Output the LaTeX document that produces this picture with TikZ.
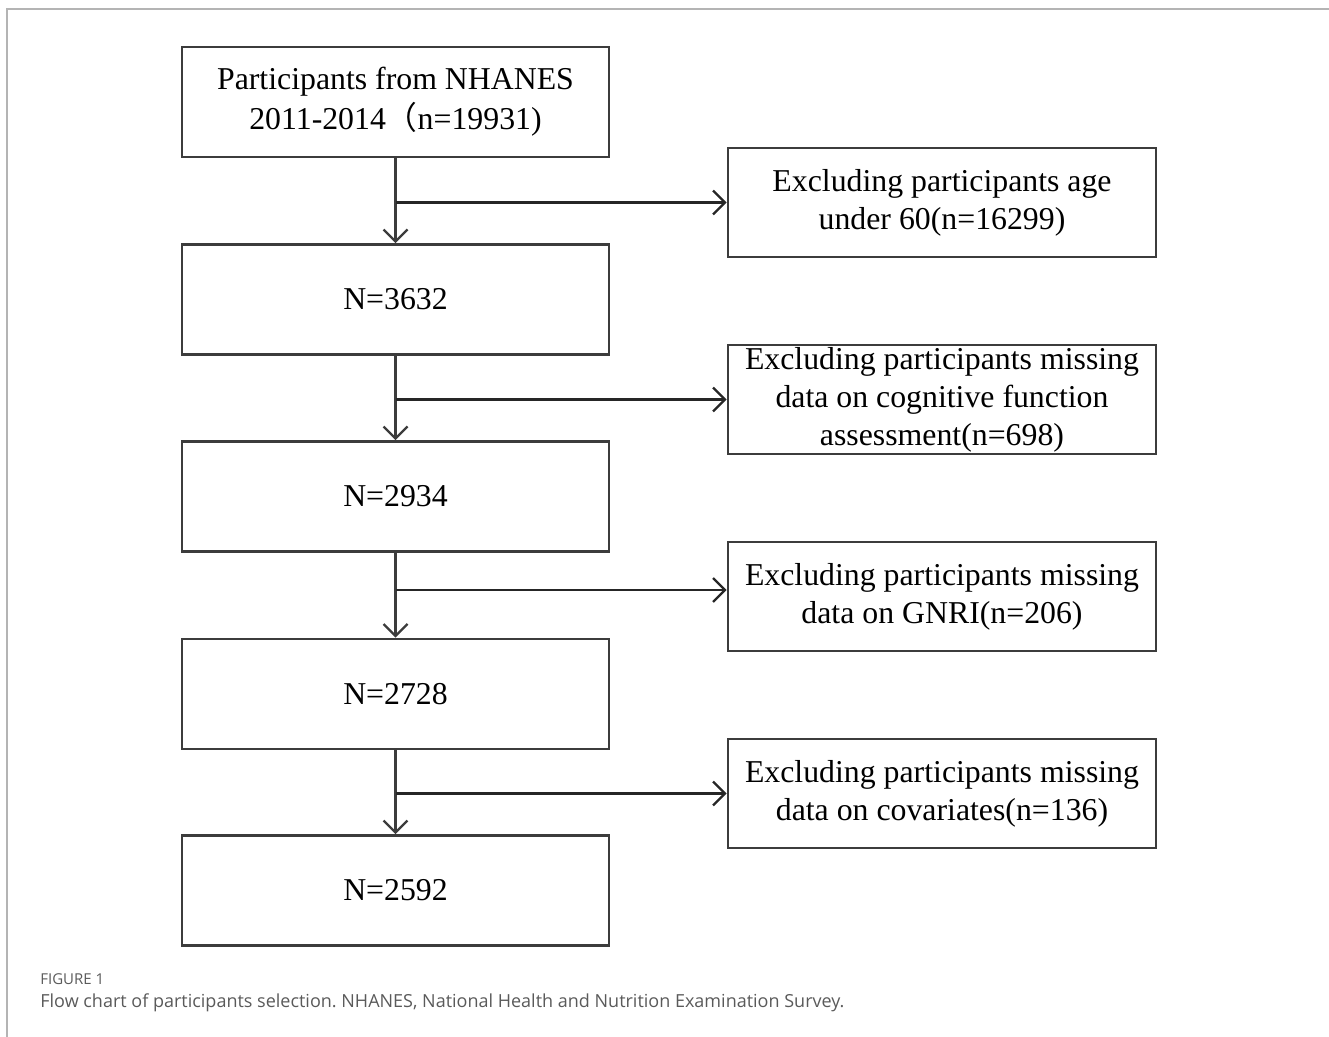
\documentclass[tikz,border=0pt]{standalone}
\usepackage{fontspec}
\setmainfont{Liberation Serif}
\newfontfamily\capfont{Open Sans}
\newfontfamily\cjkfont{Noto Sans CJK SC}
\usetikzlibrary{arrows.meta}
\frenchspacing

\definecolor{boxgray}{HTML}{3C3C3C}
\definecolor{capgray}{HTML}{5A5A5A}
\definecolor{framegray}{HTML}{B4B4B4}

\tikzset{
    flowbox/.style={draw=boxgray, line width=1.3pt, minimum width=213.5pt,
        minimum height=55pt, align=center, inner sep=0pt,
        font=\fontsize{15.9}{19}\selectfont},
    exclbox/.style={flowbox, minimum width=214pt, minimum height=54.5pt},
    downarrow/.style={draw=boxgray, line width=1.2pt,
        -{Straight Barb[length=6pt, width=12pt, line width=1.2pt]}},
    sidearrow/.style={draw=black!85, line width=1.2pt,
        -{Straight Barb[length=6pt, width=12pt, line width=1.2pt]}}
}

\begin{document}
\begin{tikzpicture}[x=0.5pt, y=-0.5pt]
\useasboundingbox (0, 0) rectangle (1329, 1037);

% page frame
\draw[framegray, line width=0.8pt]
    (7, 1037) -- (7, 9) -- (1329, 9);

% main column
\node[flowbox, font=\fontsize{15.9}{20}\selectfont] (n0) at (395.5, 102.0)
    {Participants from NHANES\\2011-2014{\cjkfont （}n=19931)};
\node[flowbox] (n1) at (395.5, 299.5) {N=3632};
\node[flowbox] (n2) at (395.5, 496.5) {N=2934};
\node[flowbox] (n3) at (395.5, 694.0) {N=2728};
\node[flowbox] (n4) at (395.5, 890.5) {N=2592};

% exclusions
\node[exclbox] (e1) at (942.0, 202.5) {Excluding participants age\\under 60(n=16299)};
\node[exclbox] (e2) at (942.0, 399.5) {Excluding participants missing\\data on cognitive function\\assessment(n=698)};
\node[exclbox] (e3) at (942.0, 596.5) {Excluding participants missing\\data on GNRI(n=206)};
\node[exclbox] (e4) at (942.0, 793.5) {Excluding participants missing\\data on covariates(n=136)};

\draw[downarrow] (n0) -- (n1);
\draw[downarrow] (n1) -- (n2);
\draw[downarrow] (n2) -- (n3);
\draw[downarrow] (n3) -- (n4);

\draw[sidearrow] (n0.south |- e1.west) -- (e1.west);
\draw[sidearrow] (n1.south |- e2.west) -- (e2.west);
\draw[sidearrow] (n2.south |- 0, 590) -- (e3.west |- 0, 590);
\draw[sidearrow] (n3.south |- e4.west) -- (e4.west);

% caption
\node[anchor=base west, inner sep=0pt, text=capgray,
    font=\capfont\fontsize{7.5}{9}\selectfont] (figlabel) at (40, 984) {FIGURE 1};
\node[anchor=base west, inner sep=0pt, text=capgray,
    font=\capfont\fontsize{9}{11}\selectfont] (figcap) at (40, 1007)
    {Flow chart of participants selection. NHANES, National Health and Nutrition Examination Survey.};
\end{tikzpicture}
\end{document}
